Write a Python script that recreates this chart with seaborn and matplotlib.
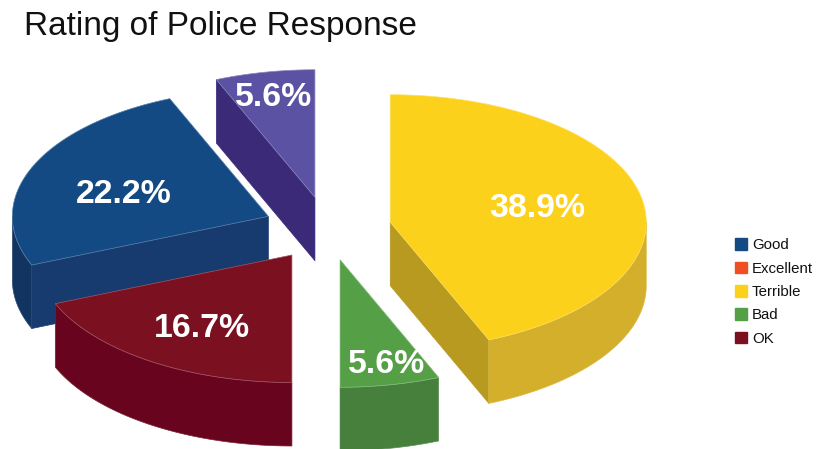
import numpy as np
import matplotlib
matplotlib.use("Agg")
import matplotlib.pyplot as plt
from matplotlib.colors import to_rgb
from matplotlib.patches import Patch, Polygon
import seaborn as sns

# Rating shares, clockwise from twelve o'clock
slice_values = [38.9, 5.6, 16.7, 22.2, 5.6]
value_labels = ["38.9%", "5.6%", "16.7%", "22.2%", "5.6%"]

legend_names = ["Good", "Excellent", "Terrible", "Bad", "OK"]
legend_colors = ["#134a84", "#f04e23", "#fcd11c", "#55a047", "#7b1021"]

top_colors = ["#fcd11c", "#55a047", "#7b1021", "#134a84", "#5c52a3"]
rim_colors = ["#d4af2b", "#47803c", "#68041d", "#123461", "#2f2568"]
cut_colors = ["#b89a20", "#47803c", "#68041d", "#173a6f", "#3a2a78"]

# Label placement as fractions of the radius: horizontal, vertical
label_fx = [0.585, 0.92, 0.63, 0.61, 0.83]
label_fy = [0.56, 0.84, 0.69, 0.45, 0.80]

# Pie geometry in pixels
CX, CY = 327.5, 228.5
RX, RY = 256.0, 127.5
DEPTH = 63.5
EXPLODE = 0.25

sns.set_theme(style="white")
plt.rcParams["font.family"] = ["Liberation Sans", "DejaVu Sans"]

fig = plt.figure(figsize=(8.22, 4.49), dpi=100)
ax = fig.add_axes([0, 0, 1, 1])
ax.set_xlim(0, 822)
ax.set_ylim(449, 0)
ax.axis("off")


def rim_point(apex, angle):
    """Point on the top ellipse, angle measured clockwise from twelve o'clock."""
    return apex[0] + RX * np.sin(angle), apex[1] - RY * np.cos(angle)


def arc(apex, a0, a1):
    t = np.linspace(a0, a1, max(2, int(abs(a1 - a0) * 80)))
    return np.column_stack([apex[0] + RX * np.sin(t), apex[1] - RY * np.cos(t)])


def lighten(color, amount=0.3):
    rgb = np.array(to_rgb(color))
    return tuple(rgb + (1 - rgb) * amount)


def add_poly(points, color, z, edge=None):
    ax.add_patch(Polygon(points, closed=True, facecolor=color,
                         edgecolor=edge if edge else color,
                         linewidth=0.5, joinstyle="round", zorder=z))


fractions = np.array(slice_values) / np.sum(slice_values)
ends = np.cumsum(fractions) * 2 * np.pi
starts = ends - fractions * 2 * np.pi
mids = (starts + ends) / 2

# Painter's order: rear slices first, front slices last
order = [4, 3, 2, 0, 1]
for rank, i in enumerate(order):
    z = 10 + rank * 3
    a0, a1, mid = starts[i], ends[i], mids[i]
    apex = (CX + EXPLODE * RX * np.sin(mid), CY - EXPLODE * RY * np.cos(mid))
    shift = np.array([0, DEPTH])

    # Flat cut faces that turn towards the viewer
    for angle in (a0, a1):
        lead = np.array(rim_point(apex, angle))
        facing = (angle == a1 and np.cos(angle) < 0 and np.sin(angle) > 0) or \
                 (angle == a0 and np.sin(angle) < -0.5 and np.cos(angle) < 0)
        facing = facing or (angle == a0 and i == 4)
        if facing:
            base = np.array(apex)
            add_poly([base, lead, lead + shift, base + shift], cut_colors[i], z)

    # Curved outer wall on the near half of the ellipse
    lo, hi = max(a0, np.pi / 2), min(a1, 3 * np.pi / 2)
    if hi > lo:
        edge = arc(apex, lo, hi)
        add_poly(np.vstack([edge, (edge + shift)[::-1]]), rim_colors[i], z + 1,
                 edge=lighten(rim_colors[i], 0.12))

    # Top face with a faint highlight along its outline
    top = np.vstack([[apex], arc(apex, a0, a1)])
    add_poly(top, top_colors[i], z + 2, edge=lighten(top_colors[i]))

    lx = apex[0] + label_fx[i] * RX * np.sin(mid)
    ly = apex[1] - label_fy[i] * RY * np.cos(mid)
    ax.text(lx, ly, value_labels[i], color="white", fontsize=24.4, fontweight="bold",
            ha="center", va="center", zorder=40)

ax.text(24, 27, "Rating of Police Response", fontsize=24, color="#111111",
        ha="left", va="center")

handles = [Patch(facecolor=c, edgecolor=c, label=n)
           for n, c in zip(legend_names, legend_colors)]
ax.legend(handles=handles, loc="center left", bbox_to_anchor=(735 / 822, 1 - 292 / 449),
          frameon=False, fontsize=10.8, handlelength=0.82, handleheight=0.82,
          handletextpad=0.3, labelspacing=0.62, borderpad=0, borderaxespad=0,
          labelcolor="#111111")

fig.savefig("out.png", dpi=100, facecolor="white")
